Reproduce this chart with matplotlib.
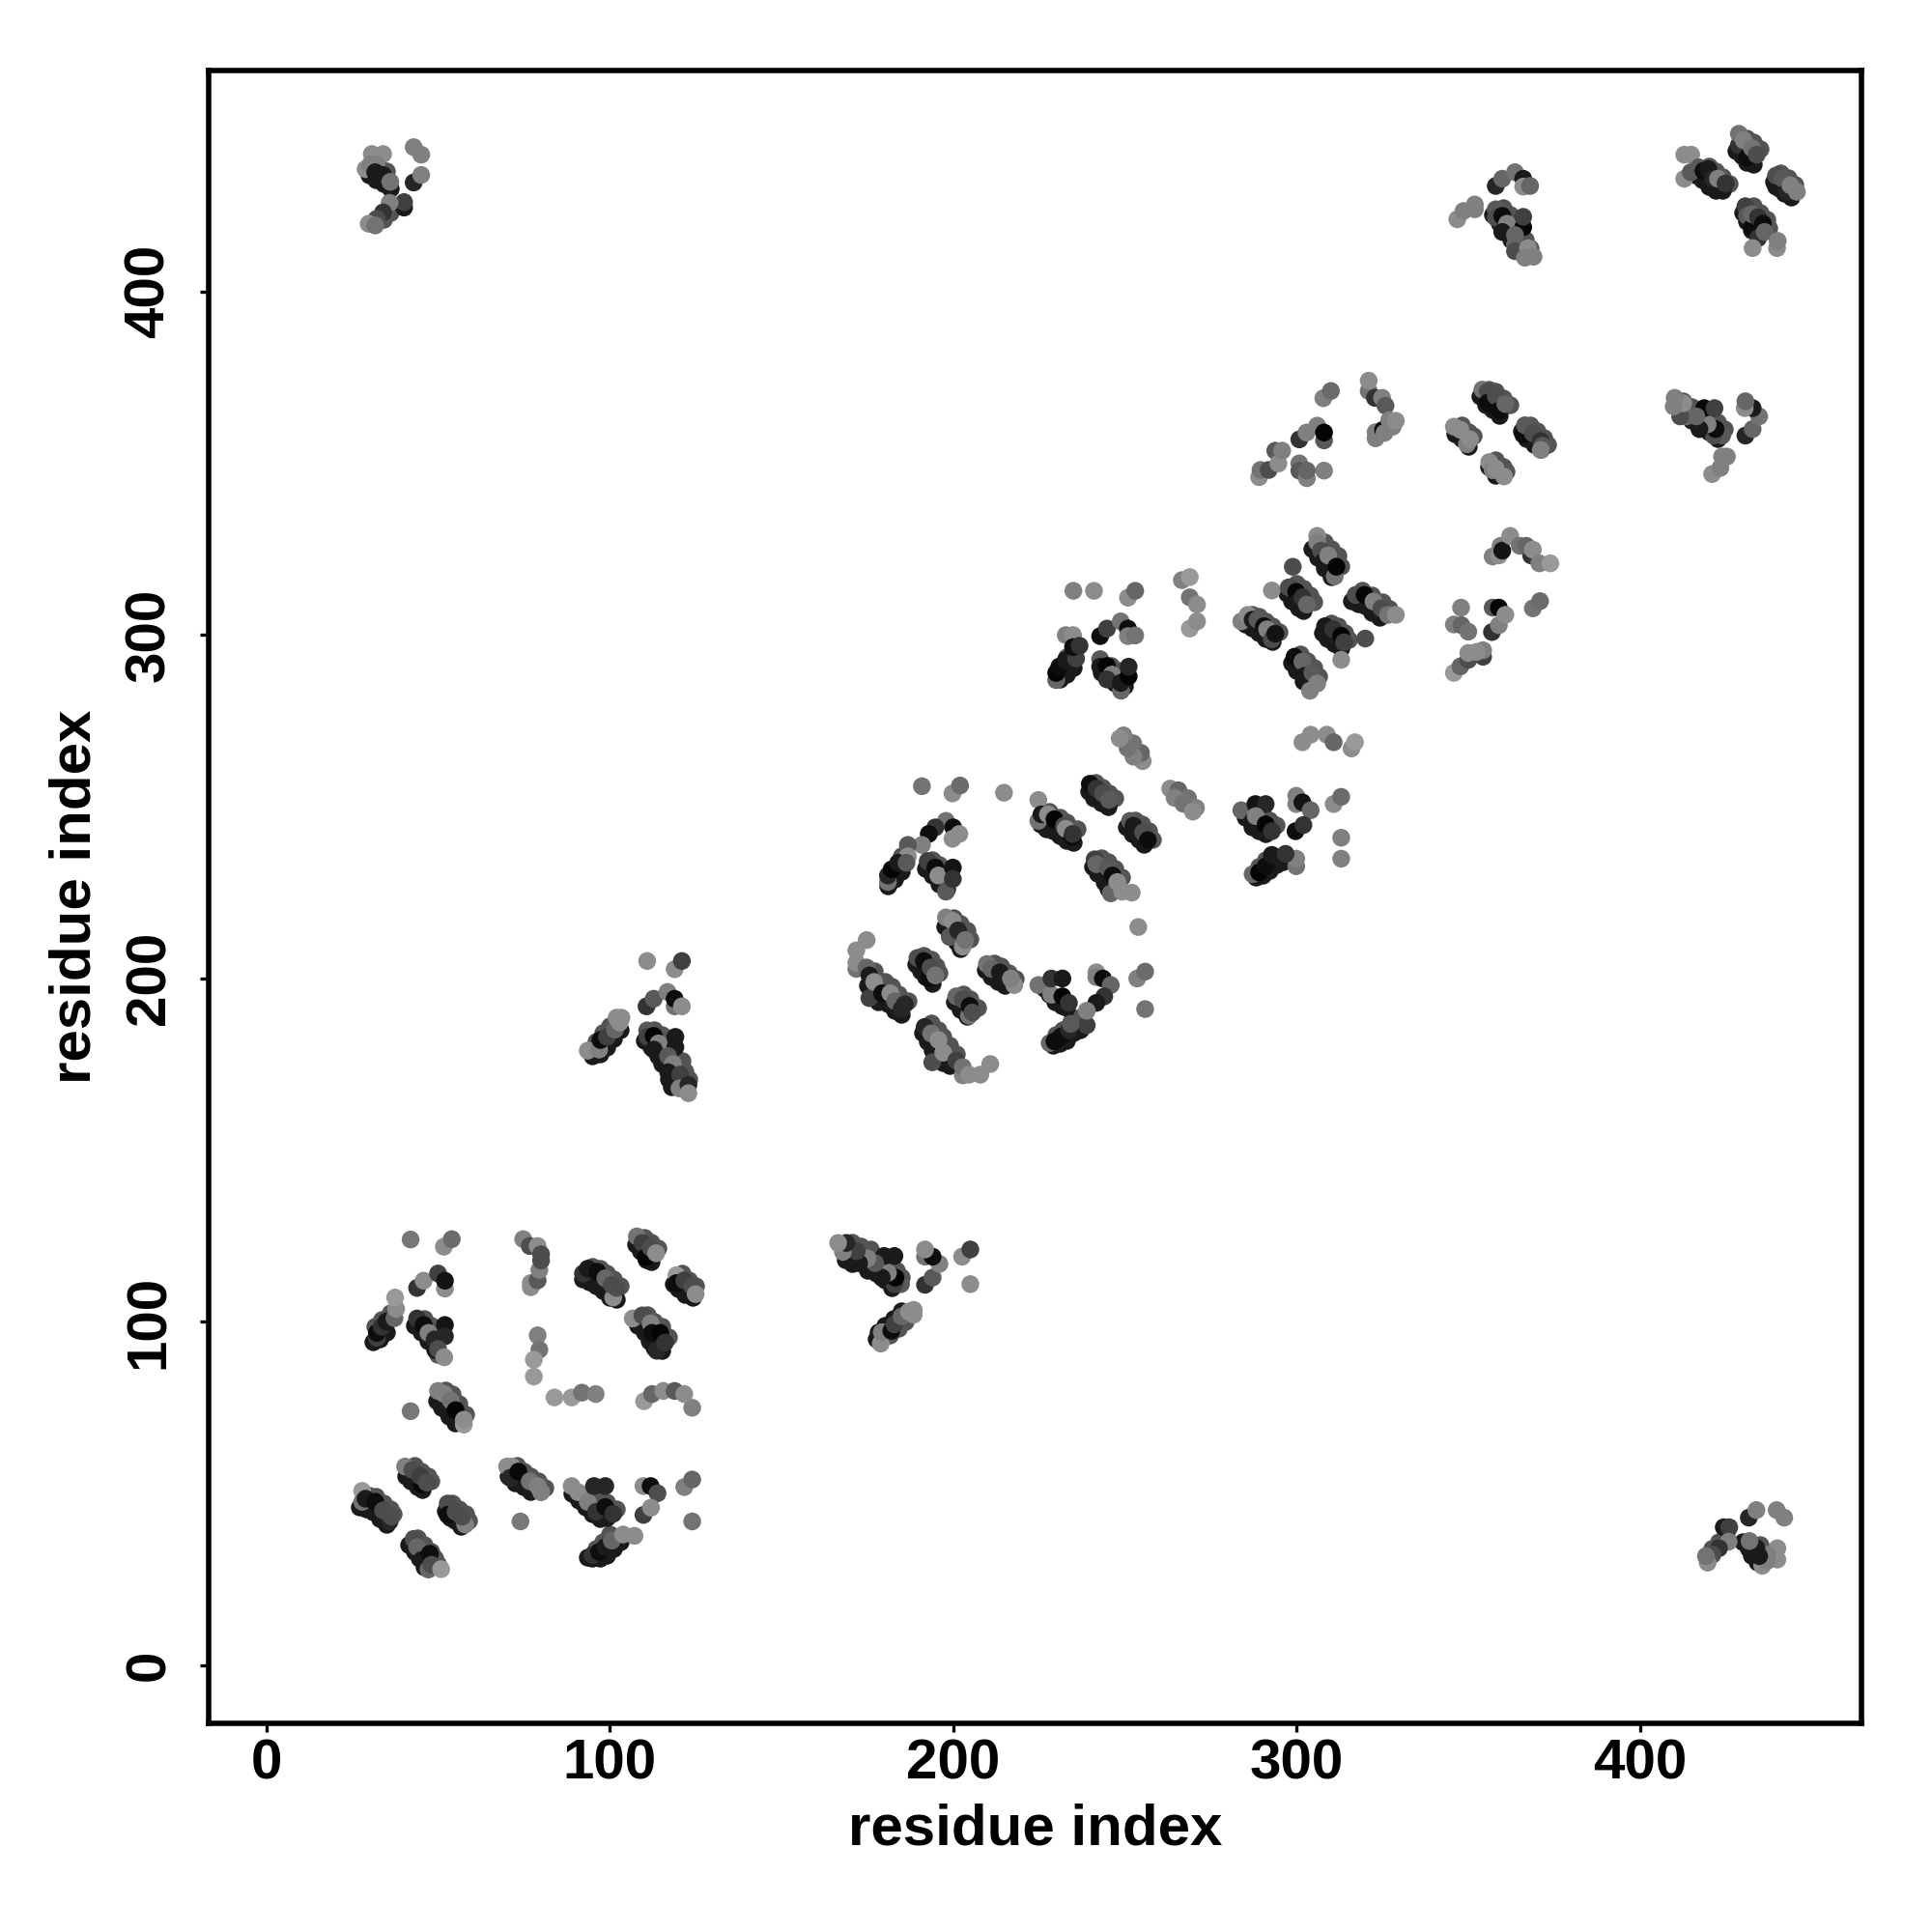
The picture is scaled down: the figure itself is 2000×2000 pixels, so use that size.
import matplotlib
matplotlib.use("Agg")
import matplotlib.pyplot as plt

# (residue x, residue y, grey level)
block_low_a = [(42,123.9,.47),(51.7,121.8,.55),(54,124,.42),(43.9,109.8,.2),(45.8,111.9,.55),(50,114,.25),(52,109.6,.55),(52,111.9,.08),
(32.2,95.3,.25),(32.2,96.7,.05),(33.6,98.5,.2),(35,100,.1),(37.3,101,.4),(37.8,103.7,.55),(37.5,107,.6),
(43.9,100.9,.2),(45.8,99,.05),(47.2,96.7,.5),(49,94.8,.15),(52,99,.08),(52,95.7,.15),(50,92,.3),(51.8,89.6,.55),
(50,79.8,.5),(51.8,78.9,.5),(53.7,77,.45),(53.3,72.3,.1),(55.1,74.2,.02),(57.5,70,.6),(57.5,71.4,.55),(42,73.9,.47)]
block_low_b = [(74.8,124,.5),(76.7,122,.3),(79,122,.55),(77,110,.55),(77,111.2,.55),(79,112,.35),(79.5,115,.5),(80,117.8,.3),(80,119.6,.3),
(79,96,.5),(79.5,91.8,.45),(77.9,88.9,.6),(77.9,84,.6),(83.9,77.9,.6),(88.9,77.9,.6),(91.9,79.3,.45),(95.9,78.9,.5),
(92.2,114,.2),(93.6,115.4,.1),(96.4,114.5,.05),(98.7,112.6,.4),(101,107,.55),(100.6,110.7,.3),(102,109.8,.3),
(107.9,124.8,.45),(109.5,122.9,.25),(110.5,118.7,.02),(111.9,121.5,.3),(113.5,119.9,.55),
(119.4,113.5,.6),(119.4,111.2,.05),(121.7,112,.25),(124,110.3,.3),(125,108,.55),
(106.7,100.9,.55),(109.5,101.8,.3),(111.9,99.5,.5),(113.7,91.5,.15),(112.3,96.7,.05),(114.7,96.7,.02),(116.1,93.9,.2),
(110,76.8,.6),(112.3,78.9,.4),(115.6,79.8,.55),(118.9,79.8,.35),(124,74.9,.5),(121.7,78.9,.55)]
block_low_c = [(40.4,57.8,.5),(42.5,56.8,.3),(45.3,52.6,.03),(44.8,55,.25),(46.7,53.1,.3),
(27.9,50.7,.6),(27.9,47.5,.45),(28.9,48.4,.1),(31.7,47.5,.05),(35.9,41.8,.15),(34,45,.3),(36.4,43.2,.3),
(52.8,47,.3),(52.8,43.7,.05),(55.1,44.6,.3),(57.9,40.9,.5),(57,43.2,.3),
(42.9,36.7,.3),(43.9,34.3,.4),(45.3,30.6,.1),(47.6,32.4,.05),(47.2,27.8,.4),(48.1,29.2,.3),(50.9,27.9,.6),
(70.1,57.8,.55),(71.5,57.8,.55),(71,54.5,.15),(73.4,56.3,.03),(76.7,53.5,.45),(80,50.3,.5),(79,52.1,.5),(74,41.8,.47),
(88.9,52.1,.55),(90.8,50.3,.55),(93.6,47.5,.5),(95.4,52.1,.15),(98.7,52.1,.15),(96,44.6,.2),(98.7,46,.05),(101,44,.2),
(109.8,52.1,.55),(111.9,52.1,.05),(113.9,50,.3),(109.8,43.7,.25),(112,45.8,.55),(121.7,51.8,.5),(124,54,.4),(124,41.8,.45),
(95,32,.2),(96.9,32.9,.05),(98.7,34.3,.1),(100.6,36.2,.4),(103.9,38,.55),(107.2,37.6,.55)]
block_mid_a = [(190.9,255.9,.45),(199.8,253.8,.55),(202,256.1,.42),(214.8,254,.55),
(224.8,251.9,.55),(224.8,245.8,.45),(225.7,247.7,.1),(227.6,247.7,.55),(229.5,246.3,.02),(232.3,244.4,.3),(232.8,243.5,.55),(234.7,241.1,.05),(234.8,242,.2),
(239.8,256.6,.05),(241.7,255.2,.2),(243.6,253.8,.3),(245.4,251.9,.35),
(251.5,245.8,.35),(252.5,244.4,.1),(255.3,242.5,.3),(256.7,240.2,.05),
(241.2,234.6,.25),(241.7,233.2,.4),(245,232.2,.35),(246.4,229.9,.05),(245.9,224.7,.4),(247.8,228,.55),(249.2,225.2,.55),(252,224.9,.55),(253.9,214.9,.55),
(197.9,245.8,.45),(200,243.9,.05),(199.8,240.6,.55),(201.8,242,.55),(194.8,243.9,.2),(192.9,242,.05),(190.9,238.8,.5),(186.8,238.8,.35),(186.8,235.5,.55),
(181,228,.45),(181,229.9,.15),(182.1,231.7,.02),(184,233.6,.1),(186.4,233.6,.35),
(192.6,234.1,.25),(194.8,232.2,.05),(197.9,225.2,.35),(195.7,229.9,.55),(199.9,232.2,.08),(199.9,228.9,.2)]
block_mid_b = [(197.9,217.7,.5),(199.8,216.7,.55),(199,212,.35),(201.4,213.9,.15),(202.8,209.2,.55),(203.5,211.1,.45),
(174.8,211.1,.55),(171.8,208.1,.55),(171.8,202.7,.45),(171.8,204.5,.55),(174.8,203.1,.4),(175.6,194.2,.25),(175.6,200.8,.1),(177,198.9,.55),(179.3,195.6,.05),(181.7,195.6,.55),(183.1,193.3,.4),(185,191,.15),(185.9,192.4,.15),
(189.6,205.9,.3),(191.5,205,.05),(192.9,199.9,.05),(193.4,203.1,.3),(194.8,200.8,.45),
(204.6,189.1,.45),(200.9,194.7,.4),(202.8,193.8,.3),(204.8,191.9,.05),(205.6,190,.3),
(209.8,204.1,.45),(211.2,202.7,.4),(213.6,201.7,.1),(217.8,198,.55),(216.8,199.9,.5),
(191.7,185.8,.15),(193.6,183.9,.45),(193.9,175.5,.3),(195.7,182,.55),(197.1,178.3,.55),(200.9,176,.25),(202.8,171.7,.5),(202.8,174.1,.45),(204.6,171.9,.55),(207.9,171.9,.55),(210.8,175,.55),
(224.8,198,.45),(228.6,195.2,.5),(228.6,199.9,.2),(231.8,199.9,.1),(231.8,194.7,.02),(233.7,192.8,.2),
(241.7,201.7,.55),(241.7,200.3,.5),(243.6,199.9,.05),(245.9,198,.4),(244,194.7,.2),(241.7,192.8,.1),
(253.6,199.9,.5),(255.9,201.9,.42),(255.9,191,.45),
(238.9,186.3,.25),(238.9,190.5,.5),(228.1,181.1,.4),(229.5,181.6,.05),(231.4,183,.05),(233.7,184.9,.15),(234.2,186.7,.35)]
block_upper_a = [(306,328.8,.55),(306,326.9,.5),(307.1,324.5,.3),(307.8,321.3,.1),(309.2,323.1,.5),(311.1,317,.45),(311.6,319.8,.02),
(298.9,319.8,.3),(292.8,312.9,.55),(297.7,313.8,.3),(299.9,312.5,.03),(300.3,309.5,.1),(301.7,310.9,.2),(303,308.8,.4),
(317.2,311.6,.3),(319.8,311.6,.02),(322.4,309.7,.5),(324.7,307.7,.3),(326.6,305.8,.45),(328.9,305.8,.55),
(283.9,303.9,.5),(285.8,305.8,.55),(287.2,304.4,.1),(288.6,304.4,.35),(290.5,302.5,.05),(291.4,301.6,.5),(292.8,298.7,.3),(293.8,300.3,.08),
(308.3,302.5,.1),(310.7,301.6,.2),(313,299.7,.02),(313.8,297.8,.25),(320,298.9,.3),(313,292.7,.55),
(299.4,293.6,.05),(301.7,292.2,.4),(302.2,288,.1),(304.6,288.9,.35),(303.9,283.7,.5),(306,285.8,.5),
(357.1,322.8,.5),(358.9,323.1,.55),(359.4,325.9,.5),(359.9,324.5,.08),(362.2,328.8,.55),(365,325.9,.45),(368.3,323.1,.2),(366.9,325.9,.4),(368.8,324.8,.55),(370.7,320.8,.5),(373.9,320.8,.6),
(347.9,307.9,.5),(345.8,303,.5),(348,302.8,.4),(350,300.9,.45),(357.1,307.9,.35),(358.9,307.9,.02),(356.9,300.8,.2),(358.9,302.8,.5),(360.8,305.8,.55),(368.8,307.7,.45),(370.9,309.8,.42),
(345.8,288.9,.6),(347.7,290.8,.4),(350,292.7,.3),(350,294.7,.55),(354.3,293.6,.25),(354.3,295.5,.5),(352.4,295,.55)]
block_upper_b = [(301.7,268.7,.55),(304.1,270.9,.55),(308.8,270.9,.55),(310.8,268.7,.4),(316,266.9,.55),(317,268.7,.6),
(283.9,248.9,.4),(288,250.7,.08),(291,250.7,.15),(287.2,245.8,.1),(288.1,247.2,.5),(291,244.8,.02),(292.8,242.8,.2),
(299.9,253.1,.5),(299.9,250.7,.5),(301.7,251.2,.08),(304.1,248.9,.4),(299.7,242.8,.05),(302,244.6,.2),
(310.8,250.7,.55),(313,252.8,.42),(313,240.9,.5),(313,234.8,.5),
(299.9,232.6,.45),(299.9,234.8,.5),(287.2,230.3,.4),(289.1,230.8,.02),(291,232.6,.05),(292.8,235.9,.1),(296.8,236.2,.2)]
block_upper_c = [(235,312.8,.5),(241,312.8,.55),(250.9,310.8,.55),(253,312.8,.4),
(266.6,315.9,.5),(268.9,316.8,.6),(268.9,310.9,.45),(271,308.8,.55),(268.9,301.8,.6),(271,303.9,.55),
(232.8,299.9,.5),(234.9,299.9,.55),(230,286.8,.4),(230,288.9,.02),(230.9,290.7,.05),(232.8,292.6,.1),(235.8,293.1,.25),(234.9,296.4,.05),(236.8,296.8,.2),
(242.8,299.6,.05),(244.8,301.8,.25),(248.8,303.9,.45),(250.9,301.8,.05),(250.9,299.6,.5),(253,299.8,.45),
(242.8,292.9,.35),(242.8,290.7,.1),(244.8,290.9,.02),(246.2,288.4,.5),(244.8,287,.2),(248.9,283.7,.4),(248.8,286,.1),(251.1,287.9,.02),(251.1,290.7,.15),
(289.1,345.9,.55),(289.5,348,.45),(291.9,348,.3),(293.8,353.6,.35),(294.7,349.9,.55),(295.8,353.6,.5),
(300.8,356.9,.2),(302.9,358.9,.5),(306,360.9,.5),(308,356.6,.35),(308,358.9,.02),
(308,347.8,.5),(300.8,349.9,.45),(300.8,347.8,.35),(303,345.6,.5),(303,347.8,.4),
(307.8,368.9,.5),(310,371,.42),(321,371,.45),(321,374,.55),(322.8,369,.2),(324.9,369,.5),(325.9,366.7,.35),
(323,357.2,.5),(323,359,.5),(325.2,359.7,.02),(325.6,358.8,.5),(327,362.5,.5),(328,360.6,.5),(328.9,362.3,.55)]
block_top = [(412.9,439.8,.55),(414.9,439.8,.55),(412.9,432.8,.55),(414.8,434.7,.35),(417.1,436.1,.35),(418.5,435.1,.05),(419.9,435.6,.1),(421.3,432.8,.15),(423.2,430,.1),(422.7,432.8,.5),(424.9,431.4,.2),
(428.8,442.6,.2),(428.8,445.9,.45),(430.2,444,.5),(431.2,438.9,.05),(432.6,441.7,.45),(434,439.8,.3),
(439.6,430.5,.1),(439.6,433.7,.3),(441.5,432.8,.35),(442.9,429,.15),(443.8,430.9,.5),(445.7,429,.5),
(430.7,424.8,.25),(431.2,422,.35),(432.6,418.7,.05),(432.6,422.5,.4),(434.4,421.6,.2),(435.8,419.7,.05),(434.4,415.5,.2),(436.3,417.3,.4),(432.8,412.6,.55),(439.9,412.6,.55),(440.1,414.7,.5),
(354.1,371.4,.45),(355.7,370.9,.3),(355.7,367.6,.05),(358,369.5,.3),(359,365.3,.05),(360.8,367.2,.4),
(345.8,360.6,.55),(347.7,359.7,.55),(349.6,355.5,.5),(350.5,356.9,.55),
(366,358.3,.05),(366.5,361,.35),(368.8,358.7,.3),(371.1,356.4,.2),(371.6,355,.35),(371.1,353.8,.5),
(356.1,350.3,.55),(357.1,347.9,.5),(358,348.4,.55),(360.4,346.1,.55)]
# contacts that appear on both sides of the diagonal
paired_far = [(30.7,440,.55),(34,440,.55),(28.9,435.6,.55),(30.3,437,.5),(32.1,437,.5),(31.7,434.7,.1),(34,433.9,.1),(36.1,431.9,.45),
(42.9,442,.5),(45.1,439.8,.5),(42.9,431.7,.15),(45.1,433.9,.5),
(40.1,424.4,.1),(40.1,426,.25),(35.9,425.8,.5),(34,423,.2),(32.1,421.1,.3),(29.8,419.7,.55),(31.7,419.2,.45)]
paired_top = [(346.8,421,.55),(348.6,423.4,.5),(351.9,425.3,.5),(351.9,423.9,.5),
(358,430.7,.15),(359.9,432.8,.4),(363.6,434.7,.45),(366,432.8,.1),(366,430.5,.55),(368,430.7,.4),
(358,423.9,.35),(358,421.5,.3),(359.9,422,.05),(361.3,419.7,.5),(359.9,417.3,.1),(366,418.7,.03),(366,421.7,.25),(363.6,416.4,.4),(363.6,413.6,.4),(363.6,411.7,.3),(367.4,412.6,.55),(366.5,409.8,.5),(369,410.1,.5)]
paired_mid = [(110.9,205,.55),(118.9,202.6,.55),(121,205,.25),(110.7,191.8,.2),(112.8,194,.35),(116.8,196,.5),(118.9,191.8,.45),(118.9,194,.05),(121,191.8,.55),
(93.6,178.9,.55),(96.9,179.2,.5),(97.3,182,.05),(99.2,182.9,.25),(101.5,185,.4),(102,188.5,.55),(103.4,188.5,.55),(102.9,187.1,.55),
(110.9,184.8,.35),(110.9,182.9,.25),(112.8,183.2,.02),(114.2,181,.5),(112.8,179.2,.1),(119.1,182.9,.1),(119.1,179.9,.1),(117,177.3,.35),(118.4,175,.5),(117,172.6,.1),(120.5,171.9,.25),(120.3,167.9,.5),(122.9,168.9,.15),(122.9,166.5,.55)]
paired_near = [(263.2,255.2,.55),(265.6,254.7,.4),(268.4,252.4,.45),(270.7,249.6,.5),(264.5,252.5,.5),(267,250.8,.45),(269.8,248.5,.55)]

# further contacts hidden in the thick strands, on their lower and upper flanks
flank_lower = [(27,46),(29,45.5),(31,44.5),(33,42.5),(35,41),(40.5,55),(42,53.5),(44,52),(45.5,51),(52,45),(53.5,43),(55,42),(56.5,40.5),
(41.5,35),(43,33),(44.5,31),(46,28.5),(70.5,55),(72.5,53),(75,52),(77,50.5),(89,50),(91,48),(93,46),(95,44),(97,42.5),(99,43),
(93.5,31.5),(95,31),(97,31),(99,32),(101,34),(103,36),(31,94),(33,95),(35,97),(43,99),(45,97),(47,94.5),(49,92),
(49.5,77),(51,75),(53,73),(55,70.5),(92,112.5),(94,111.5),(96,110.5),(98,109),(100,107),(102,106.5),(107.5,122.5),(109,120.5),(110.5,118),(112,117.5),
(118.5,111),(120,109.5),(122,108),(124,107),(108,99),(110,97),(111.5,94.5),(113,92.5),(115,91.5),
(225.5,245),(227,243.5),(229,243),(231,241.5),(233,240),(235,239.5),(239.5,254.5),(241,252.5),(243,251),(245,250),(250.5,244),(252,242),(254,240.5),(255.5,239),
(240.5,232.5),(242,230.5),(244,228),(245,226),(181,227),(183,229),(185,231),(192,232),(194,230),(196,227.5),(198,226),
(197.5,215),(199,212.5),(201,210.5),(202,208.5),(175,198),(176,195.5),(178,193),(181,192.5),(183,190.5),(185,189.5),(189,204),(190.5,202),(192,200.5),(194,198.5),
(200.5,193),(202,191),(204,189),(209.5,202.5),(211,200.5),(213,199),(215,198),(191,184),(192.5,181.5),(194,179),(195,177),(197,175.5),(199,174.5),
(226.5,197),(228,195.5),(229.5,193),(231.5,192),(233,191.5),(229,180.5),(231,181),(233,182),(235,184),(237,185),
(304.5,325),(306,322.5),(308,319.5),(310,317),(297,312),(298.5,310),(300.5,308),(302,307),(316,310),(318,309),(320,308.5),(322,306.5),(324,305),
(285,303),(287,302),(289,300.5),(291,299),(293,298),(307.5,300.5),(309,299),(311,297.5),(313,296),(298.5,292),(300,289.5),(302,286.5),(304,285),
(231,287),(233,288.5),(235,290.5),(243,289),(245,288.5),(247,286),(249,284.5),(250,285),(288,229.5),(290,230),(292,231.5),(294,233),(296,234),
(285,247),(287,244),(289,243),(291,242),(416,434),(418,432.5),(420,430.5),(422,429.5),(424,429.5),(428,441),(429.5,439.5),(431,437.5),(433,437),
(439,432),(440.5,430),(442,428.5),(444,427.5),(430,423),(431,420.5),(432.5,418),(434,416.5),(353.5,369.5),(355,367),(357,365.5),(359,364),
(365.5,359.5),(367,357),(369,355.5),(371,354),(346,358.5),(348,357),(350,355),(356,349),(358,346.5),(359,347)]
flank_upper = [(30,49.5),(32,49),(34,47),(36,45.5),(37,44),(43,58),(45,56.5),(47,55),(48,53.5),(54,47),(56,45.5),(58,44),(59,42),
(44,37),(46,35),(48,33),(49,31),(50,29.5),(73,58),(75,56.5),(77,55),(79,53.5),(81,51.5),(94,50),(96,48.5),(99,47.5),(102,45.5),
(96,34),(98,36),(100,38),(31.5,98.5),(33.5,100.5),(36,102.5),(46,101),(48,99),(50,97),(50,90.5),
(52,80),(54,79),(56,76),(58,73),(95,116),(97,115.5),(99,114),(101,112.5),(103,110.5),(110,124.5),(112,123),(114,121.5),
(121,114),(123,112),(125,110.5),(111,102),(113,100),(115,98.5),(117,95.5),
(228,248.5),(231,247),(233,245.5),(236,243.5),(241.5,257),(243.5,255.5),(245.5,254),(247,252.5),(253,246),(255,245),(257,243),(258,240.5),
(243,235),(245,234),(247,232),(249,229.5),(183,232),(185,235.5),(194,234.5),(196,233),
(200,217.5),(202,216),(204,214),(205,211.5),(177,202),(180,199),(182,197.5),(184,195.5),(187,193.5),(191.5,206.5),(193.5,205.5),(195,203.5),(196,201.5),
(203,195.5),(205,194),(207,191.5),(212,204.5),(214,203.5),(216,201.5),(218,200),(193.5,187),(195.5,185),(197,183),(199,180.5),(201,178),
(230,183.5),(232,185),(234.5,187.5),(237,188.5),
(308,327),(310,325),(312,323),(313,320),(300,315),(302,313.5),(304,311.5),(305,309.5),(319,313),(322,311.5),(325,309.5),(327,307.5),
(287,306),(289,305.5),(291,304),(293,302.5),(295,301),(310,303.5),(312,302.5),(314,300.5),(315,298.5),(301,294.5),(303,292.5),(305,290.5),(306.5,288),
(231,291),(233,293.5),(246,291),(248,289.5),(289,232.5),(291,234.5),(288,248.5),(290,248),(292,246),(294,244.5),
(420,436.5),(422,435),(424,433.5),(426,431.5),(431,444.5),(433,443.5),(435,441.5),(441,434.5),(443,433),(445,431),(433,425),(435,423),(437,421),(437.5,418.5),
(356,371.5),(358,371),(360,369),(362,367),(368,361),(370,359.5),(372,357.5),(373,355.5),(348,361),(350,359),(351.5,358),(358,351),(360,349),(361,347.5)]
flank_lower_paired = [(357,422.5),(359,420),(361,417.5),(362.5,415),(364,412),(95,177.5),(97,178),(99,180),(101,182.5),(103,185),
(110,182),(112,180),(114,177.5),(115,175),(117,170.5),(118,168.5),(30,434),(32,432.5),(34,431.5),(36,430)]
flank_upper_paired = [(360,424.5),(362,422.5),(364,420.5),(365,417),(366.5,415),(368,412.5),(96,181.5),(98,184),(100,186),
(113,185),(115,183.5),(117,181),(121,176),(122,173),(123,170.5),(33,436),(35,435),(34,421),(36,423),(38,425)]
flank_grey_lower = "0.1"
flank_grey_upper = "0.33"

x_ticks = [0, 100, 200, 300, 400]
y_ticks = [0, 100, 200, 300, 400]
x_title = "residue index"
y_title = "residue index"

plt.rcParams["font.family"] = ["Liberation Sans", "DejaVu Sans"]
plt.rcParams["font.weight"] = "bold"

fig = plt.figure(figsize=(10, 10), dpi=200)
ax = fig.add_axes([216/2000, 1-1784/2000, (1927-216)/2000, (1784-72.7)/2000])
SIZE = 44

for pts, grey in [(flank_upper, flank_grey_upper), (flank_lower, flank_grey_lower)]:
    ax.scatter([p[0] for p in pts], [p[1] for p in pts], color=grey, s=SIZE, linewidths=0, zorder=1.5)
for pts, grey in [(flank_upper_paired, flank_grey_upper), (flank_lower_paired, flank_grey_lower)]:
    ax.scatter([p[0] for p in pts], [p[1] for p in pts], color=grey, s=SIZE, linewidths=0, zorder=1.5)
    ax.scatter([p[1] for p in pts], [p[0] for p in pts], color=grey, s=SIZE, linewidths=0, zorder=1.5)

for block in [block_low_a, block_low_b, block_low_c, block_mid_a, block_mid_b,
              block_upper_a, block_upper_b, block_upper_c, block_top]:
    ax.scatter([p[0] for p in block], [p[1] for p in block],
               c=[str(p[2]) for p in block], s=SIZE, linewidths=0, zorder=2)
for block in [paired_far, paired_top, paired_mid, paired_near]:
    ax.scatter([p[0] for p in block], [p[1] for p in block],
               c=[str(p[2]) for p in block], s=SIZE, linewidths=0, zorder=2)
    ax.scatter([p[1] for p in block], [p[0] for p in block],
               c=[str(p[2]) for p in block], s=SIZE, linewidths=0, zorder=2)

ax.set_xlim(-16.8, 464.5)
ax.set_ylim(-17, 464.4)
ax.set_xticks(x_ticks)
ax.set_yticks(y_ticks)
for s in ax.spines.values():
    s.set_linewidth(2.0)
ax.tick_params(axis="both", length=3.2, width=1.2, labelsize=21)
for lab in ax.get_yticklabels():
    lab.set_rotation(90)
    lab.set_va("center")
ax.tick_params(axis="y", pad=9)
ax.tick_params(axis="x", pad=2.5)
ax.set_xlabel(x_title, fontsize=21.6, fontweight="bold", va="center")
ax.set_ylabel(y_title, fontsize=21.6, fontweight="bold", va="center")
ax.xaxis.set_label_coords(0.5, -0.0642)
ax.yaxis.set_label_coords(-0.0806, 0.5)
fig.savefig("out.png", dpi=200, facecolor="white")
